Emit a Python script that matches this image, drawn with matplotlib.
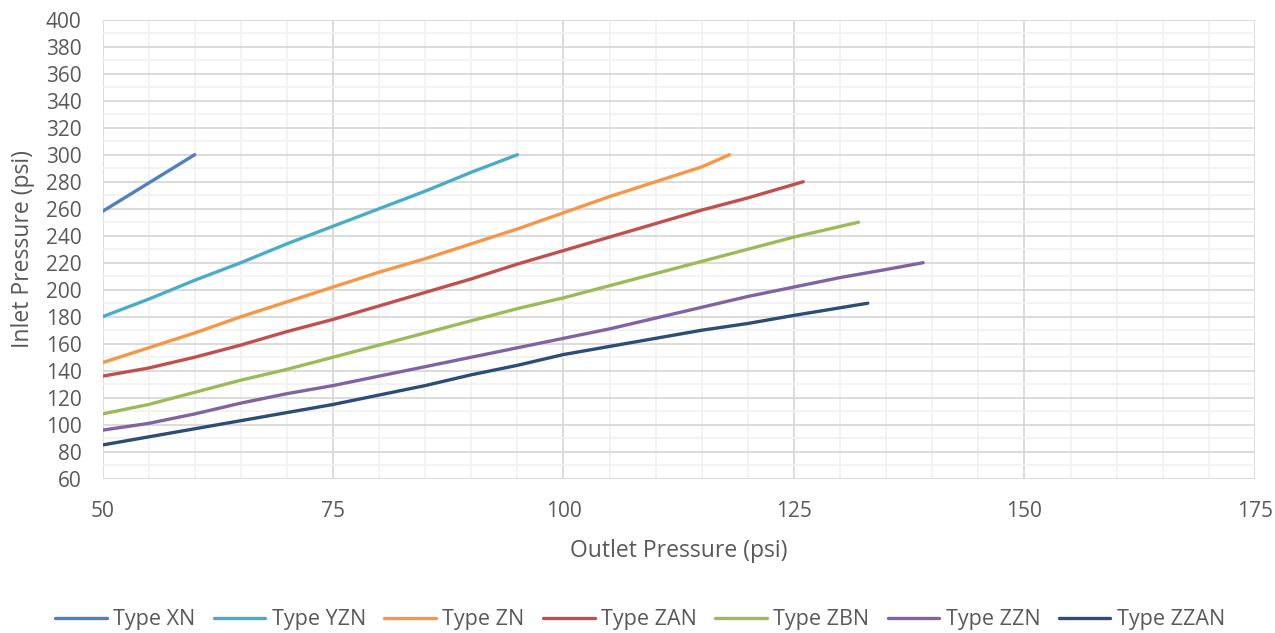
import matplotlib
matplotlib.use("Agg")
import matplotlib.pyplot as plt
from matplotlib.ticker import MultipleLocator

plt.rcParams['font.family'] = ['Open Sans', 'DejaVu Sans']

# outlet / inlet pressure per valve type
xn_out = [50, 55, 60]
xn_in = [258, 279, 300]

yzn_out = [50, 55, 60, 65, 70, 75, 80, 85, 90, 95]
yzn_in = [180, 193, 207, 220, 234, 247, 260, 273, 287, 300]

zn_out = [50, 55, 60, 65, 70, 75, 80, 85, 90, 95, 100, 105, 110, 115, 118]
zn_in = [146, 157, 168, 180, 191, 202, 213, 223, 234, 245, 257, 269, 280, 291, 300]

zan_out = [50, 55, 60, 65, 70, 75, 80, 85, 90, 95, 100, 105, 110, 115, 120, 126]
zan_in = [136, 142, 150, 159, 169, 178, 188, 198, 208, 219, 229, 239, 249, 259, 268, 280]

zbn_out = [50, 55, 60, 65, 70, 75, 80, 85, 90, 95, 100, 105, 110, 115, 120, 125, 132]
zbn_in = [108, 115, 124, 133, 141, 150, 159, 168, 177, 186, 194, 203, 212, 221, 230, 239, 250]

zzn_out = [50, 55, 60, 65, 70, 75, 80, 85, 90, 95, 100, 105, 110, 115, 120, 125, 130, 135, 139]
zzn_in = [96, 101, 108, 116, 123, 129, 136, 143, 150, 157, 164, 171, 179, 187, 195, 202, 209, 215, 220]

zzan_out = [50, 55, 60, 65, 70, 75, 80, 85, 90, 95, 100, 105, 110, 115, 120, 125, 133]
zzan_in = [85, 91, 97, 103, 109, 115, 122, 129, 137, 144, 152, 158, 164, 170, 175, 181, 190]

series = [
    ("Type XN", xn_out, xn_in, "#4F81BD"),
    ("Type YZN", yzn_out, yzn_in, "#4BACC6"),
    ("Type ZN", zn_out, zn_in, "#F79646"),
    ("Type ZAN", zan_out, zan_in, "#C0504D"),
    ("Type ZBN", zbn_out, zbn_in, "#9BBB59"),
    ("Type ZZN", zzn_out, zzn_in, "#8064A2"),
    ("Type ZZAN", zzan_out, zzan_in, "#2C4D75"),
]

fig = plt.figure(figsize=(12.75, 6.33), dpi=100)
ax = fig.add_axes([0.0804, 0.2437, 0.9039, 0.7252])

for name, xs, ys, col in series:
    ax.plot(xs, ys, color=col, lw=2.4, label=name,
            solid_capstyle='round', solid_joinstyle='round', zorder=3)

ax.set_xlim(50, 175)
ax.set_ylim(60, 400)
ax.xaxis.set_major_locator(MultipleLocator(25))
ax.xaxis.set_minor_locator(MultipleLocator(5))
ax.yaxis.set_major_locator(MultipleLocator(20))
ax.yaxis.set_minor_locator(MultipleLocator(10))

ax.grid(which='minor', color='#F2F2F2', lw=1.3, zorder=0)
ax.grid(which='major', color='#D9D9D9', lw=1.3, zorder=1)
for s in ax.spines.values():
    s.set_visible(False)
ax.tick_params(which='both', length=0, labelsize=15, labelcolor='#595959')
ax.tick_params(axis='x', pad=16)
ax.tick_params(axis='y', pad=15)

ax.set_xlabel("Outlet Pressure (psi)", fontsize=16.5, color='#595959', labelpad=12)
ax.set_ylabel("Inlet Pressure (psi)", fontsize=16.5, color='#595959', labelpad=8)

fig.legend(loc='center', bbox_to_anchor=(0.502, 0.021), ncol=7, frameon=False,
           fontsize=15.5, labelcolor='#595959', handlelength=2.4, handletextpad=0.3,
           columnspacing=0.85)

fig.savefig("out.png", dpi=100)
